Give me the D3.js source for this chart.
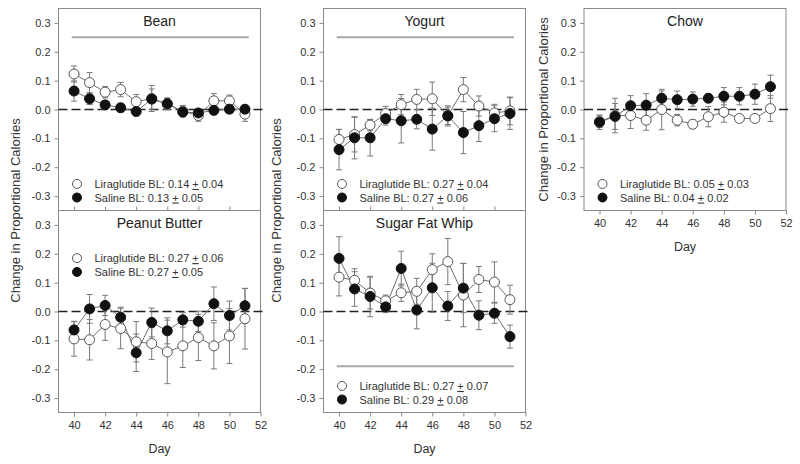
<!DOCTYPE html>
<html><head><meta charset="utf-8">
<script src="https://cdn.jsdelivr.net/npm/d3@7"></script>
<style>body{margin:0;background:#fff}svg{display:block;font-family:"Liberation Sans",Arial,sans-serif}</style>
</head><body>
<svg id="c" width="800" height="464"></svg>
<script>
const days = [40,41,42,43,44,45,46,47,48,49,50,51];
const dayTicks = [40,42,44,46,48,50,52];
const yTicks = [-0.3,-0.2,-0.1,0,0.1,0.2,0.3];
const seriesNames = ["Liraglutide", "Saline"];

const beanLira    = [0.123,0.093,0.060,0.069,0.027,0.038,0.019,-0.006,-0.021,0.030,0.030,-0.016];
const beanLiraErr = [0.028,0.035,0.020,0.025,0.025,0.045,0.020,0.020,0.020,0.025,0.020,0.025];
const beanSal     = [0.064,0.037,0.016,0.006,-0.007,0.036,0.020,-0.009,-0.012,-0.003,0.001,0.001];
const beanSalErr  = [0.035,0.020,0.015,0.015,0.015,0.035,0.020,0.010,0.010,0.015,0.010,0.012];

const yogLira     = [-0.104,-0.087,-0.054,-0.014,0.017,0.035,0.037,-0.022,0.069,0.012,-0.012,-0.005];
const yogLiraErr  = [0.035,0.060,0.020,0.025,0.035,0.035,0.058,0.030,0.042,0.035,0.030,0.048];
const yogSal      = [-0.139,-0.098,-0.098,-0.032,-0.039,-0.034,-0.068,-0.022,-0.080,-0.056,-0.032,-0.014];
const yogSalErr   = [0.070,0.073,0.063,0.022,0.077,0.033,0.073,0.035,0.073,0.055,0.045,0.055];

const chowLira    = [-0.042,-0.021,-0.021,-0.037,0.000,-0.037,-0.051,-0.025,-0.009,-0.031,-0.031,0.003];
const chowLiraErr = [0.020,0.060,0.045,0.035,0.070,0.020,0.015,0.035,0.035,0.010,0.010,0.045];
const chowSal     = [-0.044,-0.024,0.013,0.015,0.039,0.034,0.036,0.039,0.046,0.046,0.053,0.079];
const chowSalErr  = [0.025,0.045,0.035,0.040,0.025,0.030,0.025,0.015,0.030,0.030,0.035,0.040];

const pbLira      = [-0.095,-0.098,-0.045,-0.059,-0.105,-0.111,-0.140,-0.119,-0.090,-0.119,-0.085,-0.025];
const pbLiraErr   = [0.060,0.070,0.055,0.070,0.070,0.055,0.110,0.075,0.080,0.080,0.095,0.105];
const pbSal       = [-0.064,0.009,0.021,-0.020,-0.143,-0.038,-0.067,-0.029,-0.034,0.027,-0.014,0.020];
const pbSalErr    = [0.030,0.050,0.035,0.035,0.065,0.050,0.045,0.025,0.035,0.058,0.050,0.060];

const sfwLira     = [0.119,0.108,0.064,0.037,0.065,0.070,0.145,0.173,0.057,0.111,0.102,0.041];
const sfwLiraErr  = [0.065,0.040,0.055,0.020,0.030,0.045,0.055,0.080,0.110,0.045,0.070,0.050];
const sfwSal      = [0.184,0.078,0.052,0.016,0.149,0.005,0.082,0.019,0.081,-0.013,-0.006,-0.087];
const sfwSalErr   = [0.075,0.060,0.070,0.020,0.060,0.065,0.085,0.050,0.085,0.050,0.035,0.040];

const titles = ["Bean","Yogurt","Chow","Peanut Butter","Sugar Fat Whip"];
const liraBL = ["0.14","0.27","0.05","0.27","0.27"];
const liraBLse = ["0.04","0.04","0.03","0.06","0.07"];
const salBL = ["0.13","0.27","0.04","0.27","0.29"];
const salBLse = ["0.05","0.06","0.02","0.05","0.08"];
const sigBarY = [0.25, 0.25, null, null, -0.19];
const sigBarX = [39.85, 51.25];

const panels = [
  {title:titles[0], lira:beanLira, liraErr:beanLiraErr, sal:beanSal, salErr:beanSalErr, col:0,row:0, legendTop:false, xLabels:false},
  {title:titles[1], lira:yogLira, liraErr:yogLiraErr, sal:yogSal, salErr:yogSalErr, col:1,row:0, legendTop:false, xLabels:false},
  {title:titles[2], lira:chowLira, liraErr:chowLiraErr, sal:chowSal, salErr:chowSalErr, col:2,row:0, legendTop:false, xLabels:true},
  {title:titles[3], lira:pbLira, liraErr:pbLiraErr, sal:pbSal, salErr:pbSalErr, col:0,row:1, legendTop:true, xLabels:true},
  {title:titles[4], lira:sfwLira, liraErr:sfwLiraErr, sal:sfwSal, salErr:sfwSalErr, col:1,row:1, legendTop:false, xLabels:true}
];

const colLeft = [58.5, 323.5, 584];
const panelW = 202;
const rowTop = [8.5, 210.5];
const panelH = 202;

const svg = d3.select("#c");
const frameColor = "#8a8a8a";

panels.forEach((p,i) => {
  const x0 = colLeft[p.col], y0 = rowTop[p.row];
  const x = d3.scaleLinear().domain([39,52]).range([x0, x0+panelW]);
  const y = d3.scaleLinear().domain([-0.35,0.35]).range([y0+panelH, y0]);
  const g = svg.append("g");

  // frame
  g.append("rect").attr("x",x0).attr("y",y0).attr("width",panelW).attr("height",panelH)
    .attr("fill","none").attr("stroke",frameColor).attr("stroke-width",1);

  // y axis
  const ya = g.append("g").attr("transform",`translate(${x0},0)`)
    .call(d3.axisLeft(y).tickValues(yTicks).tickSize(4).tickPadding(4).tickFormat(d3.format(".1f")));
  ya.select(".domain").remove();
  ya.selectAll("line").attr("stroke",frameColor);
  ya.selectAll("text").attr("font-size",11).attr("fill","#333").attr("font-family","Liberation Sans, Arial, sans-serif")
    .text(d => d3.format(".1f")(d).replace("−","-"));

  // x axis
  if (p.xLabels) {
    const xa = g.append("g").attr("transform",`translate(0,${y0+panelH})`)
      .call(d3.axisBottom(x).tickValues(dayTicks).tickSize(4).tickPadding(5));
    xa.select(".domain").remove();
    xa.selectAll("line").attr("stroke",frameColor);
    xa.selectAll("text").attr("font-size",11).attr("fill","#333").attr("font-family","Liberation Sans, Arial, sans-serif");
    g.append("text").attr("x",x(45.5)).attr("y",y0+panelH+40).attr("text-anchor","middle")
      .attr("font-size",12.5).attr("fill","#333").text("Day");
  } else {
    const xa = g.append("g").attr("transform",`translate(0,${y0+panelH})`)
      .call(d3.axisTop(x).tickValues(dayTicks.slice(0,6)).tickSize(4).tickFormat(""));
    xa.select(".domain").remove();
    xa.selectAll("line").attr("stroke",frameColor);
  }

  // zero dashed line
  g.append("line").attr("x1",x0).attr("x2",x0+panelW+2).attr("y1",y(0)).attr("y2",y(0))
    .attr("stroke","#222").attr("stroke-width",1.6).attr("stroke-dasharray","9,4");

  // title
  g.append("text").attr("x",x(45.5)).attr("y",y0+17).attr("text-anchor","middle")
    .attr("font-size",14).attr("fill","#222").text(p.title);

  // sig bar
  if (sigBarY[i] !== null) {
    g.append("line").attr("x1",x(sigBarX[0])).attr("x2",x(sigBarX[1]))
      .attr("y1",y(sigBarY[i])).attr("y2",y(sigBarY[i]))
      .attr("stroke","#a8a8a8").attr("stroke-width",2);
  }

  const series = [
    {vals:p.lira, err:p.liraErr, fill:"#fff", stroke:"#555"},
    {vals:p.sal, err:p.salErr, fill:"#111", stroke:"#111"}
  ];
  const line = d3.line().x((d,k)=>x(days[k])).y(d=>y(d));
  series.forEach(s => {
    g.append("path").attr("d",line(s.vals)).attr("fill","none").attr("stroke","#6e6e6e").attr("stroke-width",1);
  });
  series.forEach(s => {
    const eb = g.append("g").attr("stroke","#7a7a7a").attr("stroke-width",1);
    s.vals.forEach((v,k) => {
      const cx = x(days[k]), top = y(v + s.err[k]), bot = y(v - s.err[k]);
      eb.append("line").attr("x1",cx).attr("x2",cx).attr("y1",top).attr("y2",bot);
      eb.append("line").attr("x1",cx-3).attr("x2",cx+3).attr("y1",top).attr("y2",top);
      eb.append("line").attr("x1",cx-3).attr("x2",cx+3).attr("y1",bot).attr("y2",bot);
    });
  });
  series.forEach(s => {
    g.append("g").selectAll("circle").data(s.vals).join("circle")
      .attr("cx",(d,k)=>x(days[k])).attr("cy",d=>y(d)).attr("r",5)
      .attr("fill",s.fill).attr("stroke",s.stroke).attr("stroke-width",1);
  });

  // legend
  const ly1 = p.legendTop ? y(0.185) : y(-0.258);
  const ly2 = p.legendTop ? y(0.137) : y(-0.305);
  const lx = x0 + 18.5, tx = x0 + 36;
  const rows = [
    {y:ly1, fill:"#fff", stroke:"#555", name:seriesNames[0], bl:liraBL[i], se:liraBLse[i]},
    {y:ly2, fill:"#111", stroke:"#111", name:seriesNames[1], bl:salBL[i], se:salBLse[i]}
  ];
  rows.forEach(r => {
    g.append("circle").attr("cx",lx).attr("cy",r.y).attr("r",4.5).attr("fill",r.fill).attr("stroke",r.stroke);
    const t = g.append("text").attr("x",tx).attr("y",r.y+4).attr("font-size",11).attr("fill","#333");
    t.append("tspan").text(`${r.name} BL: ${r.bl} `);
    t.append("tspan").style("text-decoration","underline").text("+");
    t.append("tspan").text(` ${r.se}`);
  });
});

// y axis titles
[[20,210.5],[281,210.5],[548,109.5]].forEach(([bx,cy]) => {
  svg.append("text").attr("transform",`translate(${bx},${cy}) rotate(-90)`)
    .attr("text-anchor","middle").attr("font-size",13).attr("fill","#333")
    .text("Change in Proportional Calories");
});
</script>
</body></html>
